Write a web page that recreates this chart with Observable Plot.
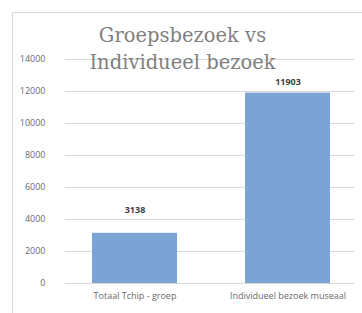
<!DOCTYPE html>
<html><head><meta charset="utf-8">
<script src="https://cdn.jsdelivr.net/npm/d3@7"></script>
<script src="https://cdn.jsdelivr.net/npm/@observablehq/plot@0.6"></script>
<style>
html,body{margin:0;padding:0;background:#fff;overflow:hidden;}
#wrap{position:relative;width:362px;height:313px;overflow:hidden;}
#box{position:absolute;left:12px;top:12px;width:360px;height:310px;border-left:1px solid #d9d9d9;border-top:1px solid #d9d9d9;}
#chart{position:absolute;left:0;top:0;}
</style></head>
<body><div id="wrap"><div id="box"></div><div id="chart"></div></div>
<script>
const categories = ["Totaal Tchip - groep", "Individueel bezoek museaal"];
const values = [3138, 11903];
const yTicks = [0, 2000, 4000, 6000, 8000, 10000, 12000, 14000];
const titleLines = ["Groepsbezoek vs", "Individueel bezoek"];

const data = categories.map((c, i) => ({cat: c, val: values[i]}));

const chart = Plot.plot({
  width: 362, height: 313,
  marginLeft: 65, marginRight: 7, marginTop: 59, marginBottom: 30,
  style: {background: "transparent", fontFamily: "'Open Sans', sans-serif", overflow: "hidden"},
  x: {domain: categories, range: [58, 364], paddingInner: 0.445, paddingOuter: 0.2225, label: null},
  y: {domain: [0, 14000], label: null},
  marks: [
    Plot.gridY(yTicks, {stroke: "#d9d9d9", strokeOpacity: 1}),
    Plot.barY(data, {x: "cat", y: "val", fill: "#7ba3d4"}),
    Plot.ruleY([0], {x1: 58, x2: 362, stroke: "#c8c8c8"}),
    Plot.text([data[0]], {x: "cat", y: "val", text: d => String(d.val), dy: -23, fontWeight: "bold", fontSize: 9, fill: "#404040"}),
    Plot.text([data[1]], {x: "cat", y: "val", text: d => String(d.val), dy: -11, fontWeight: "bold", fontSize: 9, fill: "#404040"}),
    Plot.text([titleLines.join("\n")], {frameAnchor: "top-left", dx: 117, dy: -12.5, text: d => d, textAnchor: "middle", lineAnchor: "middle", lineHeight: 1.38, fontSize: 19.5, fontFamily: "'DejaVu Serif', serif", fill: "#7f7f7f"}),
    Plot.axisX({tickSize: 0, tickPadding: 9, fontSize: 9, fill: "#6a6a6a", label: null}),
    Plot.axisY({ticks: yTicks, tickFormat: d3.format("d"), tickSize: 0, tickPadding: 20, fontSize: 9, fill: "#6a6a6a", label: null})
  ]
});
document.getElementById("chart").appendChild(chart);
</script>
</body></html>
